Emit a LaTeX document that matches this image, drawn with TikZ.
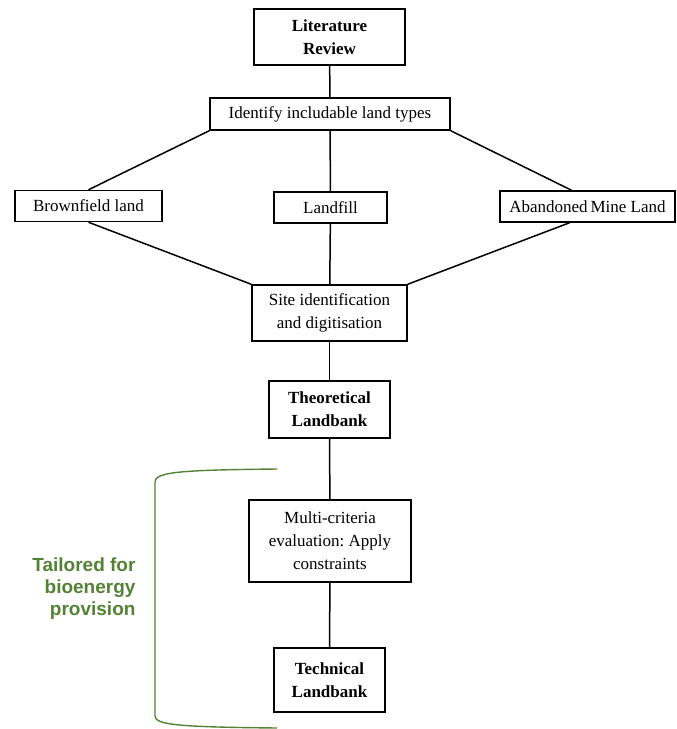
\documentclass[tikz,border=0pt]{standalone}
\usepackage{fontspec}
\setmainfont{Liberation Serif}
\setsansfont{Liberation Sans}
\definecolor{bracketgreen}{RGB}{84,130,53}
\frenchspacing
\begin{document}
\begin{tikzpicture}[x=1pt,y=-1pt,
  stagebox/.style={draw,rectangle,line width=1.5pt,align=center,inner sep=2pt,
    font=\fontsize{17}{23}\selectfont},
  keybox/.style={stagebox,font=\fontsize{17}{23}\selectfont\bfseries},
  link/.style={line width=1.5pt}]
\useasboundingbox (0,0) rectangle (677,729);
\node[keybox,minimum width=151,minimum height=56] (litreview) at (329.5,37) {Literature\\Review};
\node[stagebox,minimum width=240,minimum height=32] (landtypes) at (330,114) {Identify includable land types};
\node[stagebox,minimum width=147,minimum height=31] (brownfield) at (88.5,206) {Brownfield land};
\node[stagebox,minimum width=113,minimum height=31] (landfill) at (330.5,207.5) {Landfill};
\node[stagebox,minimum width=175,minimum height=31] (mineland) at (587.5,206.5) {Abandoned\,Mine Land};
\node[stagebox,minimum width=155,minimum height=56] (sites) at (329.5,313) {Site identification\\and digitisation};
\node[keybox,minimum width=121,minimum height=57] (theoretical) at (329.5,409.5) {Theoretical\\Landbank};
\node[stagebox,minimum width=162,minimum height=82] (mce) at (330,541) {Multi-criteria\\evaluation: Apply\\constraints};
\node[keybox,minimum width=111,minimum height=64] (technical) at (329.5,680) {Technical\\Landbank};
\draw[link] (litreview) -- (landtypes);
\draw[link] (landtypes.south west) -- (brownfield.north);
\draw[link] (landtypes) -- (landfill);
\draw[link] (landtypes.south east) -- ([xshift=-16pt]mineland.north);
\draw[link] (brownfield.south) -- (sites.north west);
\draw[link] (landfill) -- (sites);
\draw[link] ([xshift=-18pt]mineland.south) -- (sites.north east);
\draw[link] (sites) -- (theoretical);
\draw[link] (theoretical) -- (mce);
\draw[link] (mce) -- (technical);
\coordinate (bracetop) at (277,469);
\coordinate (bracebottom) at (277,728);
\draw[bracketgreen,line width=1.4pt] (bracetop) .. controls (180,470) and (155,472) .. (155,482)
  -- (155,716) .. controls (155,725) and (180,727) .. (bracebottom);
\node[anchor=east,align=right,text=bracketgreen,font=\sffamily\bfseries\fontsize{19}{22}\selectfont] (tailored) at (139,589) {Tailored for\\bioenergy\\provision};
\end{tikzpicture}
\end{document}
